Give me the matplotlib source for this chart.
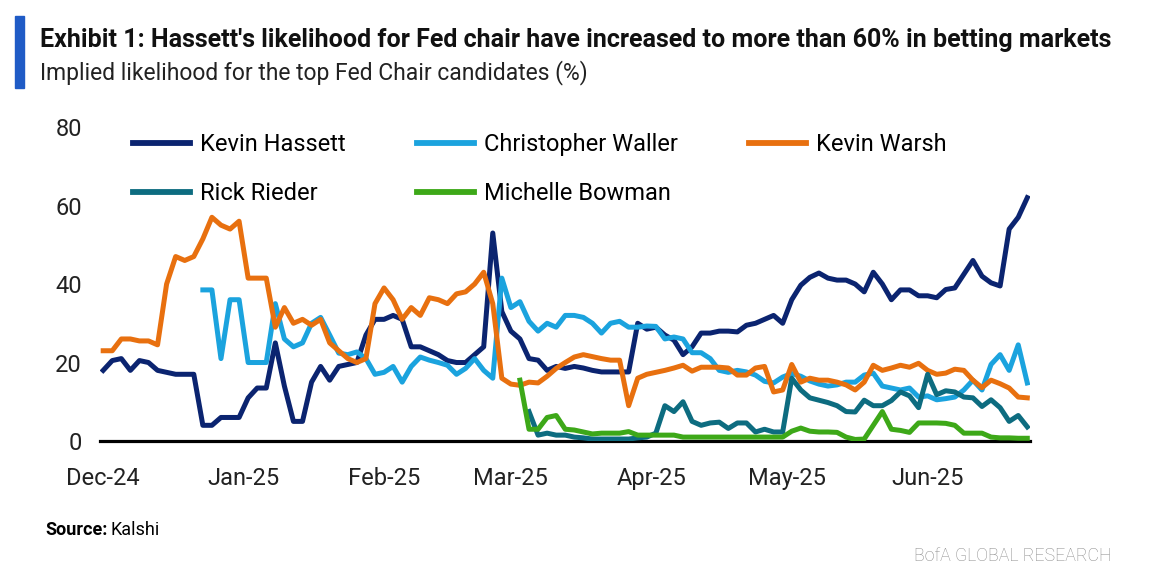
import matplotlib
matplotlib.use("Agg")
import matplotlib.pyplot as plt
import matplotlib.dates as mdates
from matplotlib.patches import Rectangle
import numpy as np
import pandas as pd

plt.rcParams['font.family'] = ['Roboto', 'DejaVu Sans']

# every second day from 1 Dec 2024
dates = pd.date_range('2024-12-01', periods=103, freq='2D')

hassett = [18, 20.5, 21, 18, 20.5, 20, 18, 17.5, 17, 17,
           17, 4, 4, 6, 6, 6, 11, 13.5, 13.5, 25,
           14, 5, 5, 15, 19, 15.5, 19, 19.5, 20, 27,
           31, 31, 32, 31, 24, 24, 23, 22, 20.5, 20,
           20, 22, 24, 53, 33, 28, 26, 21, 20.6, 18,
           19, 18.5, 19, 18.6, 18, 17.6, 17.6, 17.6, 17.6, 30,
           28.5, 29, 27, 25.7, 22, 24, 27.5, 27.5, 28, 28,
           27.8, 29.5, 30, 31, 32, 30, 36, 39.7, 41.7, 42.8,
           41.5, 41, 41, 40, 38, 43, 40, 36, 38.5, 38.5,
           37, 37, 36.5, 38.6, 39, 42.5, 46, 42, 40.3, 39.5,
           54, 57, 62]

waller = [None] * 11 + [38.5, 38.5, 21, 36, 36, 20, 20, 20, 35,
          26, 24, 25, 30, 31.5, 27, 22.4, 22, 22.7, 21,
          17, 17.5, 19, 15, 19, 21.4, 20.6, 20, 19.3, 17,
          18.5, 21, 18, 16, 41.5, 34, 35.5, 30.5, 28, 30,
          29, 32, 32, 31.5, 30, 27.5, 30, 30.5, 29, 29,
          29.3, 29.2, 26, 26.5, 26, 22.5, 22.5, 21, 18, 17.5,
          18, 17.6, 16.8, 15.2, 14.8, 16.3, 17.2, 16.5, 15.3, 14.5,
          14, 14.3, 15, 15, 16.8, 17.3, 14, 13.5, 13, 13.5,
          11.2, 11.5, 10.5, 10.8, 11.2, 13, 15.5, 13, 19.5, 22,
          18, 24.5, 14.8]

warsh = [23, 23, 26, 26, 25.5, 25.5, 24.5, 40, 47, 46,
         47, 51.5, 57, 55, 54, 56, 41.5, 41.5, 41.5, 29,
         34, 30, 31, 29.5, 31, 25, 23, 21, 20, 21,
         35, 39, 36, 31, 34, 32, 36.5, 36, 35, 37.5,
         38, 40, 43, 35, 16, 14.5, 14.2, 15, 14.8, 16.5,
         18.5, 20, 21.4, 22, 21.5, 21, 20.6, 20.6, 9, 16,
         17, 17.5, 18, 18.6, 19.3, 17.8, 18.8, 18.8, 18.8, 18.6,
         16.8, 16.8, 18.6, 19, 12.5, 13, 19.5, 15, 16, 15.5,
         15.5, 15, 14.3, 13, 15, 19.3, 18, 18.6, 19.3, 18.8,
         19.8, 18, 17, 17.3, 18.3, 18, 15.5, 13.6, 15.5, 14.6,
         13.5, 11.2, 11]

rieder = [None] * 47 + [7.5, 1.5, 2,
          1.5, 1.5, 1, 0.8, 0.5, 0.5, 0.5, 0.5, 0.5, 0.8,
          1, 2, 9, 7.5, 10, 5, 4, 4.6, 4.8, 3.2,
          4.6, 4.6, 2.3, 3, 2.3, 2.3, 16, 13, 11, 10.4,
          9.8, 9, 7.5, 7.4, 10.4, 9, 9, 10.3, 12.5, 11.5,
          8.5, 17, 11.8, 12.8, 12.5, 11.2, 11, 8.8, 10.5, 8.5,
          5, 6.5, 3.6]

bowman = [None] * 46 + [15.5, 3, 3, 6,
          6.5, 3, 2.8, 2.3, 1.8, 2, 2, 2, 2.4, 1.5,
          1.5, 1.5, 1.5, 1.5, 1, 1, 1, 1, 1, 1,
          1, 1, 1, 1, 1, 1, 2.5, 3.3, 2.5, 2.3,
          2.3, 2.2, 1, 0.4, 0.5, 4, 7.5, 3, 2.7, 2.2,
          4.6, 4.6, 4.6, 4.5, 4, 2, 2, 2, 1, 0.8,
          0.8, 0.7, 0.7]

names = ['Kevin Hassett', 'Christopher Waller', 'Kevin Warsh',
         'Rick Rieder', 'Michelle Bowman']
colors = ['#0b2470', '#1ba3de', '#e8700f', '#0d6c80', '#3da818']
series = [hassett, waller, warsh, rieder, bowman]

month_ticks = pd.date_range('2024-12-01', '2025-06-01', freq='MS')

fig = plt.figure(figsize=(11.59, 5.87), dpi=100)
ax = fig.add_axes([0.0863, 0.2487, 0.8024, 0.5349])

lines = []
for vals, name, c in zip(series, names, colors):
    y = np.array([np.nan if v is None else v for v in vals], dtype=float)
    ln, = ax.plot(dates, y, color=c, lw=3.6, label=name, solid_joinstyle='round')
    lines.append(ln)

ax.set_ylim(0, 80)
ax.set_yticks([0, 20, 40, 60, 80])
ax.set_xlim(dates[0] - pd.Timedelta(days=0.7), dates[0] + pd.Timedelta(days=204.6))
ax.set_xticks(month_ticks)
ax.xaxis.set_major_formatter(mdates.DateFormatter('%b-%y'))

for s in ['top', 'right', 'left']:
    ax.spines[s].set_visible(False)
ax.spines['bottom'].set_linewidth(2.3)
ax.spines['bottom'].set_color('black')
ax.spines['bottom'].set_zorder(1)
ax.tick_params(axis='both', length=0, labelsize=17, labelcolor='#222222')
ax.tick_params(axis='y', pad=13)
ax.tick_params(axis='x', pad=19)

# legend fills column-wise: reorder so rows read Hassett/Waller/Warsh, Rieder/Bowman
order = [0, 3, 1, 4, 2]
leg = ax.legend([lines[i] for i in order], [names[i] for i in order],
                loc='upper left', bbox_to_anchor=(0.0355, 0.98), ncol=3,
                frameon=False, fontsize=17, handlelength=2.4,
                handletextpad=0.45, columnspacing=3.0, labelspacing=1.1,
                borderaxespad=0, borderpad=0)
for h in leg.get_lines():
    h.set_linewidth(4.2)

# title block
fig.patches.append(Rectangle((15 / 1159, (587 - 88) / 587), 9 / 1159, 72 / 587,
                             transform=fig.transFigure, color='#1f5bc6'))
fig.text(0.0345, 0.932, "Exhibit 1: Hassett's likelihood for Fed chair have increased to more than 60% in betting markets",
         fontsize=18, fontweight='bold', va='center', color='#111111')
fig.text(0.0345, 0.8756, 'Implied likelihood for the top Fed Chair candidates (%)',
         fontsize=16.5, va='center', color='#222222')

src = fig.text(0.0388, 0.097, 'Source:', fontsize=13, fontweight='bold', va='center')
fig.canvas.draw()
bb = src.get_window_extent()
fig.text((bb.x1 + 3) / fig.bbox.width, 0.097, 'Kalshi', fontsize=13, va='center')
fig.text(0.9594, 0.0528, 'BofA GLOBAL RESEARCH', fontsize=12.8, ha='right', va='center',
         color='#8a8a8a', fontweight='light')

fig.savefig('out.png', dpi=100)
plt.close(fig)
